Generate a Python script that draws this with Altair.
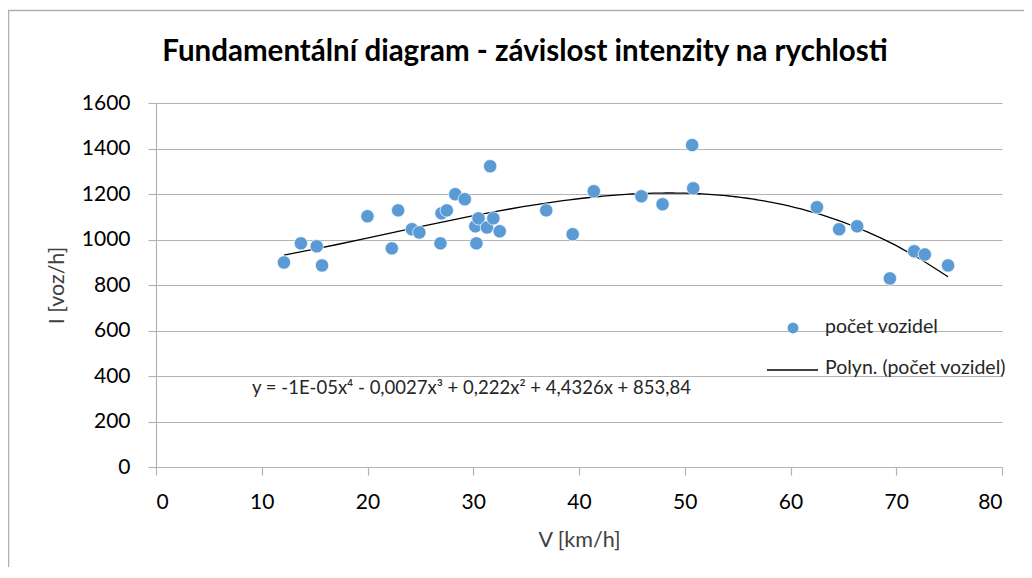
import altair as alt
import pandas as pd

# Data
V = [12.1, 13.7, 15.2, 15.7, 20.0, 22.3, 22.9, 24.2, 24.9, 26.9, 27.0, 27.5,
     28.3, 29.2, 30.2, 30.3, 30.5, 31.3, 31.6, 31.9, 32.5, 36.9, 39.4, 41.4,
     45.9, 47.9, 50.7, 50.8, 62.5, 64.6, 66.3, 69.4, 71.7, 72.7, 74.9]
I = [899, 983, 970, 886, 1102, 961, 1128, 1045, 1031, 983, 1115, 1128,
     1199, 1177, 1058, 983, 1093, 1053, 1322, 1093, 1036, 1128, 1023, 1212,
     1190, 1155, 1415, 1225, 1142, 1045, 1058, 829, 948, 934, 886]

X_TICKS = [0, 10, 20, 30, 40, 50, 60, 70, 80]
Y_TICKS = [0, 200, 400, 600, 800, 1000, 1200, 1400, 1600]

TITLE = ["Fundamentální diagram - závislost intenzity na rychlosti"]
X_TITLE = "V [km/h]"
Y_TITLE = "I [voz/h]"
LEGEND_POINTS = ["počet vozidel"]
LEGEND_LINE = ["Polyn. (počet vozidel)"]
EQUATION = ["y = -1E-05x⁴ - 0,0027x³ + 0,222x² + 4,4326x + 853,84"]

df = pd.DataFrame({"V": V, "I": I})

FONT = "Lato"
GRID = "#b3b3b3"
BLUE = "#5B9BD5"
W, H = 846, 364

xenc = alt.X("V:Q", scale=alt.Scale(domain=[0, 80], nice=False, zero=False),
             axis=alt.Axis(values=X_TICKS, title=X_TITLE, grid=False, format="d",
                           tickSize=8, labelPadding=16, titlePadding=17))
yenc = alt.Y("I:Q", scale=alt.Scale(domain=[0, 1600], nice=False),
             axis=alt.Axis(values=Y_TICKS, title=Y_TITLE, grid=True, format="d",
                           tickSize=8, labelPadding=18, titlePadding=13))

points = alt.Chart(df).mark_circle(size=180, color=BLUE, opacity=1,
                                   stroke="white", strokeWidth=0.7).encode(x=xenc, y=yenc)

trend = alt.Chart(df).transform_regression(
    "V", "I", method="poly", order=4
).mark_line(color="black", strokeWidth=1.3).encode(x="V:Q", y="I:Q")

leg_pts = pd.DataFrame({"label": LEGEND_POINTS})
leg_line = pd.DataFrame({"label": LEGEND_LINE})
eq_df = pd.DataFrame({"label": EQUATION})
title_df = pd.DataFrame({"label": TITLE})

title_txt = alt.Chart(title_df).mark_text(align="center", baseline="alphabetic", fontSize=29.5,
                                          fontWeight="bold", font=FONT, color="black").encode(
    x=alt.value(369), y=alt.value(-42), text="label:N")

leg_dot = alt.Chart(leg_pts).mark_circle(size=120, color=BLUE, opacity=1).encode(
    x=alt.value(637), y=alt.value(225))
leg_dot_txt = alt.Chart(leg_pts).mark_text(align="left", baseline="middle", fontSize=19.5,
                                           font=FONT, color="#262626").encode(
    x=alt.value(669), y=alt.value(224), text="label:N")
leg_rule = alt.Chart(leg_line).mark_rule(color="black", strokeWidth=1.3).encode(
    x=alt.value(611), x2=alt.value(662), y=alt.value(267))
leg_rule_txt = alt.Chart(leg_line).mark_text(align="left", baseline="middle", fontSize=19.5,
                                             font=FONT, color="#262626").encode(
    x=alt.value(669), y=alt.value(265), text="label:N")

eq_txt = alt.Chart(eq_df).mark_text(align="left", baseline="middle", fontSize=18.5,
                                    font=FONT, color="#262626").encode(
    x=alt.value(96), y=alt.value(285), text="label:N")

border = alt.Chart(pd.DataFrame({"a": [1]})).mark_rect(
    fillOpacity=0, stroke="#b0b0b0", strokeWidth=1.5).encode(
    x=alt.value(-147.5), y=alt.value(-92.5), x2=alt.value(900), y2=alt.value(520))

chart = alt.layer(
    border, title_txt, trend, points, leg_dot, leg_dot_txt, leg_rule, leg_rule_txt, eq_txt
).properties(
    width=W, height=H,
    autosize=alt.AutoSizeParams(type="none"),
    padding={"left": 148, "top": 95, "right": 22, "bottom": 100},
).configure_view(stroke=None).configure_axis(
    labelFont=FONT, titleFont=FONT, labelFontSize=21, titleFontSize=21.5,
    labelColor="black", titleColor="#404040", titleFontWeight="normal",
    domainColor=GRID, tickColor=GRID, gridColor=GRID, domainWidth=1.2,
    gridWidth=1.2, tickWidth=1.2,
)

chart.save("out.html", embed_options={"renderer": "svg", "actions": False})
